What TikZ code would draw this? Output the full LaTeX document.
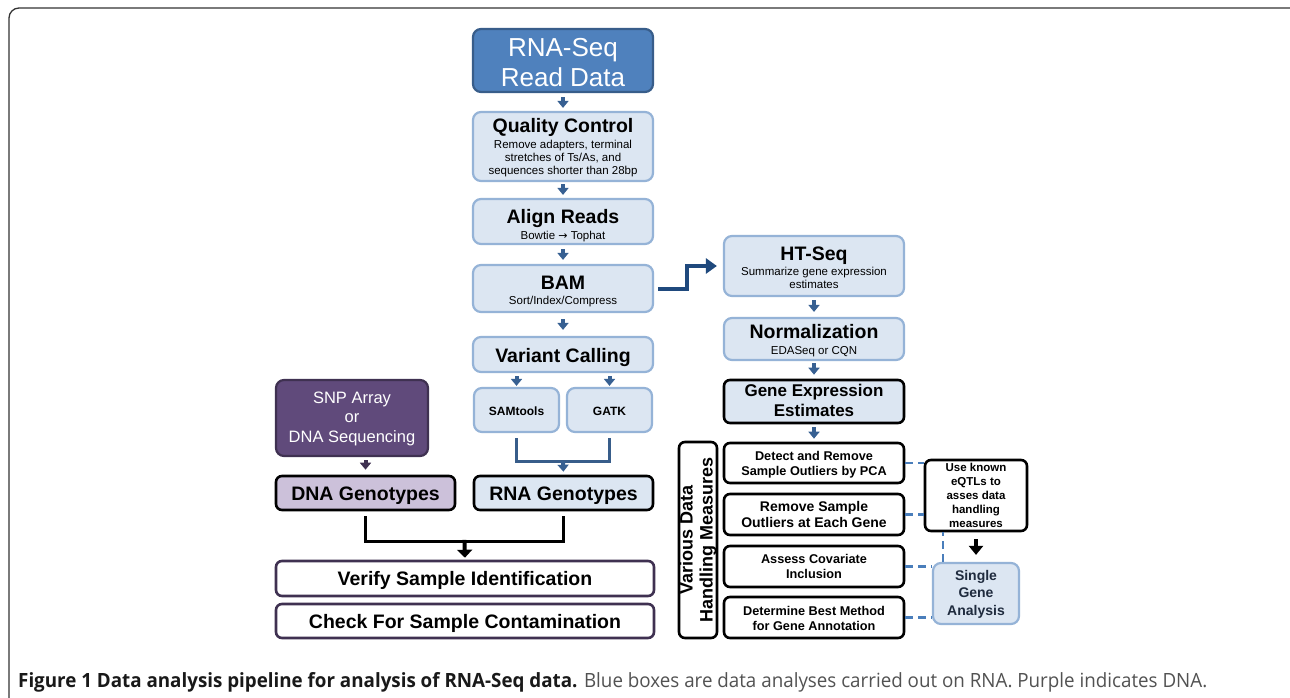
\documentclass[tikz,border=0pt]{standalone}
\usepackage{fontspec}
\setmainfont{Liberation Sans}
\newfontfamily\capfont{Open Sans}
\newfontfamily\arrfont{DejaVu Sans}
\usetikzlibrary{arrows.meta,calc}
\definecolor{dblue}{HTML}{4F81BD}
\definecolor{dbluebd}{HTML}{385D8A}
\definecolor{lblue}{HTML}{DCE6F2}
\definecolor{lbluebd}{HTML}{95B3D7}
\definecolor{arrowblue}{HTML}{376092}
\definecolor{navy}{HTML}{1F497D}
\definecolor{purp}{HTML}{604A7B}
\definecolor{purpbd}{HTML}{3F3151}
\definecolor{lpurp}{HTML}{CCC1DA}
\definecolor{dashblue}{HTML}{4A7EBB}
\definecolor{sgatext}{HTML}{1F2B3E}
\newcommand\mytitle{\fontsize{19.5}{22}\selectfont\bfseries}
\newcommand\mysub{\fontsize{11.5}{13}\selectfont}
\tikzset{
  bx/.style={rounded corners=8pt, line width=2.2pt, inner sep=0pt, align=center},
  bluebox/.style={bx, draw=lbluebd, fill=lblue},
  darkbox/.style={bx, draw=dbluebd, fill=dblue, text=white},
  purpbox/.style={bx, draw=purpbd, fill=purp, text=white},
  blackbox/.style={rounded corners=6pt, line width=2.6pt, draw=black, inner sep=0pt, align=center},
  verbox/.style={rounded corners=6pt, line width=2.6pt, draw=purpbd, fill=white, inner sep=0pt, align=center},
  txt/.style={inner sep=0pt, align=center},
  sarr/.style={draw=arrowblue, line width=4pt, -{Triangle[width=11pt,length=7pt]}},
  parr/.style={draw=purpbd, line width=4pt, -{Triangle[width=11pt,length=7pt]}},
  karr/.style={draw=black, line width=4pt, -{Triangle[width=15pt,length=8pt]}},
  bbr/.style={draw=dbluebd, line width=3pt},
  kbr/.style={draw=black, line width=3pt},
  conn/.style={draw=navy, line width=4pt, -{Triangle[width=15pt,length=11pt]}},
  dsh/.style={draw=dashblue, line width=2.6pt, dash pattern=on 8pt off 5pt},
}
\begin{document}
\begin{tikzpicture}[x=1pt,y=-1pt]
\useasboundingbox (0,0) rectangle (1290,698);
\fill[white] (0,0) rectangle (1290,698);
\clip (0,0) rectangle (1290,698);
\draw[line width=1.3pt, rounded corners=10pt, black!80] (9,8) rectangle (1300,712);

% main column
\node[darkbox, minimum width=180pt, minimum height=63pt] (rna) at (563,60.5) {};
\node[txt, anchor=north, text=white, font=\fontsize{26}{30}\selectfont] (rnat) at (563,38) {RNA-Seq\\Read Data};

\node[bluebox, minimum width=180pt, minimum height=69pt] (qc) at (563,146.5) {};
\node[txt, anchor=base, font=\mytitle] (qct) at (563,132) {Quality Control};
\node[txt, anchor=north, font=\mysub] (qcs) at (563,139.6) {Remove adapters, terminal\\stretches of Ts/As, and\\sequences shorter than 28bp};

\node[bluebox, minimum width=180pt, minimum height=45pt] (al) at (563,221.5) {};
\node[txt, anchor=base, font=\mytitle] (alt) at (563,223.3) {Align Reads};
\node[txt, anchor=base, font=\mysub] (als) at (563,239) {Bowtie {\arrfont\fontsize{11}{13}\selectfont →} Tophat};

\node[bluebox, minimum width=180pt, minimum height=47pt] (bam) at (563,288.5) {};
\node[txt, anchor=base, font=\mytitle] (bamt) at (563,289) {BAM};
\node[txt, anchor=base, font=\mysub] (bams) at (563,304.3) {Sort/Index/Compress};

\node[bluebox, minimum width=180pt, minimum height=35pt] (vc) at (563,354.5) {};
\node[txt, anchor=base, font=\mytitle] (vct) at (563,362) {Variant Calling};

\node[bluebox, minimum width=85pt, minimum height=44pt] (sam) at (516.5,410) {};
\node[txt, anchor=base, font=\fontsize{12}{14}\selectfont\bfseries] (samt) at (516.5,415.5) {SAMtools};
\node[bluebox, minimum width=85pt, minimum height=44pt] (gat) at (609.5,410) {};
\node[txt, anchor=base, font=\fontsize{12}{14}\selectfont\bfseries] (gatt) at (609.5,415.5) {GATK};

\node[blackbox, fill=lblue, minimum width=179pt, minimum height=34pt] (rnag) at (563.5,493) {};
\node[txt, anchor=base, font=\mytitle] (rnagt) at (563.5,500) {RNA Genotypes};

% DNA side
\node[purpbox, minimum width=152pt, minimum height=76pt] (snp) at (352,418) {};
\node[txt, anchor=north, text=white, font=\fontsize{16.5}{19.5}\selectfont] (snpt) at (352,391.3) {SNP Array\\or\\DNA Sequencing};

\node[blackbox, fill=lpurp, minimum width=179pt, minimum height=34pt] (dnag) at (365.5,493) {};
\node[txt, anchor=base, font=\mytitle] (dnagt) at (365.5,500) {DNA Genotypes};

\node[verbox, minimum width=378pt, minimum height=35pt] (ver) at (465,578.5) {};
\node[txt, anchor=base, font=\mytitle] (vert) at (465,585) {Verify Sample Identification};
\node[verbox, minimum width=378pt, minimum height=34pt] (chk) at (465,621) {};
\node[txt, anchor=base, font=\mytitle] (chkt) at (465,628.3) {Check For Sample Contamination};

% right column
\node[bluebox, minimum width=180pt, minimum height=60pt] (ht) at (814,266) {};
\node[txt, anchor=base, font=\mytitle] (htt) at (814,260) {HT-Seq};
\node[txt, anchor=north, font=\fontsize{11.5}{12.7}\selectfont] (hts) at (814,267.3) {Summarize gene expression\\estimates};

\node[bluebox, minimum width=180pt, minimum height=42pt] (nor) at (814,339) {};
\node[txt, anchor=base, font=\mytitle] (nort) at (814,338.3) {Normalization};
\node[txt, anchor=base, font=\mysub] (nors) at (814,354) {EDASeq or CQN};

\node[blackbox, fill=lblue, minimum width=180pt, minimum height=43pt] (gee) at (814,401.5) {};
\node[txt, anchor=north, font=\fontsize{17}{20}\selectfont\bfseries] (geet) at (814,384.3) {Gene Expression\\Estimates};

\node[blackbox, fill=white, minimum width=196pt, minimum height=38pt, rotate=90, font=\fontsize{18}{20}\selectfont\bfseries] (vdh) at (698,540) {Various Data\\Handling Measures};

\node[blackbox, fill=white, minimum width=180pt, minimum height=40pt] (b1) at (814,463) {};
\node[txt, anchor=north, font=\fontsize{12.7}{15}\selectfont\bfseries] (b1t) at (814,450.7) {Detect and Remove\\Sample Outliers by PCA};
\node[blackbox, fill=white, minimum width=180pt, minimum height=41pt] (b2) at (814,514.5) {};
\node[txt, anchor=north, font=\fontsize{14}{15.6}\selectfont\bfseries] (b2t) at (814,501.5) {Remove Sample\\Outliers at Each Gene};
\node[blackbox, fill=white, minimum width=180pt, minimum height=41pt] (b3) at (814,566.5) {};
\node[txt, anchor=north, font=\fontsize{12.7}{15}\selectfont\bfseries] (b3t) at (814,554) {Assess Covariate\\Inclusion};
\node[blackbox, fill=white, minimum width=180pt, minimum height=41pt] (b4) at (814,617.5) {};
\node[txt, anchor=north, font=\fontsize{12.7}{15}\selectfont\bfseries] (b4t) at (814,605.7) {Determine Best Method\\for Gene Annotation};

\node[blackbox, fill=white, minimum width=102pt, minimum height=71pt] (eq) at (976,495.5) {};
\node[txt, anchor=north, font=\fontsize{11.5}{13.8}\selectfont\bfseries] (eqt) at (976,463.3) {Use known\\eQTLs to\\asses data\\handling\\measures};

\node[bluebox, minimum width=86pt, minimum height=61pt] (sga) at (976,593.5) {};
\node[txt, anchor=north, text=sgatext, font=\fontsize{14}{17.5}\selectfont\bfseries] (sgat) at (976,569.8) {Single\\Gene\\Analysis};

% arrows main column
\draw[sarr, shorten <=4pt, shorten >=3pt] (rna.south) -- (qc.north);
\draw[sarr, shorten <=2pt, shorten >=3pt] (qc.south) -- (al.north);
\draw[sarr, shorten <=4pt, shorten >=4pt] (al.south) -- (bam.north);
\draw[sarr, shorten <=6pt, shorten >=6pt] (bam.south) -- (vc.north);
\draw[sarr, shorten <=3pt, shorten >=1pt] (vc.south -| sam.north) -- (sam.north);
\draw[sarr, shorten <=3pt, shorten >=1pt] (vc.south -| gat.north) -- (gat.north);

\coordinate (jb) at ($(sam.south)!0.5!(gat.south)+(0,28)$);
\draw[bbr] ([yshift=-5pt]sam.south) |- (jb) -| ([yshift=-5pt]gat.south);
\draw[sarr, shorten >=3pt] (jb) -- (rnag.north);

\draw[parr, shorten <=3pt, shorten >=5pt] (dnag.north |- snp.south) -- (dnag.north);

\coordinate (jk) at ($(dnag.south)!0.5!(rnag.south)+(0,30)$);
\draw[kbr] ([yshift=-5pt]dnag.south) |- (jk) -| ([yshift=-5pt]rnag.south);
\draw[karr, shorten <=-1.5pt, shorten >=2pt] (jk) -- (ver.north);

% BAM -> HT-Seq
\draw[conn, shorten <=4pt, shorten >=6pt] (bam.east) -- ++(33,0) |- (ht.west);

% right column arrows
\draw[sarr, shorten <=3pt, shorten >=5pt] (ht.south) -- (nor.north);
\draw[sarr, shorten <=2pt, shorten >=4pt] (nor.south) -- (gee.north);
\draw[sarr, shorten <=3pt, shorten >=3pt] (gee.south) -- (b1.north);

\draw[karr, shorten <=7pt, shorten >=7pt, -{Triangle[width=14pt,length=9pt]}] (eq.south) -- (sga.north);

% dashed links
\draw[dsh] (b1.east) -- (b1.east -| eq.west);
\draw[dsh] (b2.east) -- (b2.east -| eq.west);
\draw[dsh] (b3.east) -- (b3.east -| sga.west);
\draw[dsh] (b4.east) -- (b4.east -| sga.west);
\coordinate (dv) at ([xshift=11pt]sga.north west);
\draw[dsh] (dv) -- (dv |- eq.south);

% caption
\node[anchor=base west, inner sep=0pt] (cap) at (18,687) {\resizebox{1189pt}{15pt}{\capfont\fontsize{20}{20}\selectfont\color{black!90}\textbf{Figure 1 Data analysis pipeline for analysis of RNA-Seq data.} \color{black!68}Blue boxes are data analyses carried out on RNA. Purple indicates DNA.}};
\end{tikzpicture}
\end{document}
